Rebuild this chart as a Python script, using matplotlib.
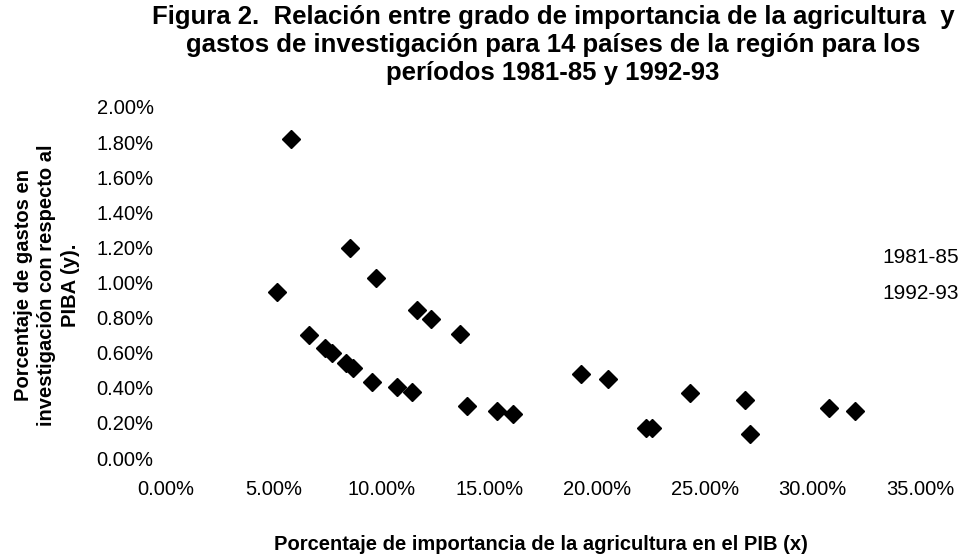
import matplotlib.pyplot as plt
from matplotlib.ticker import FuncFormatter, MultipleLocator

plt.rcParams['font.family'] = ['Liberation Sans', 'DejaVu Sans']

# Datos (valores en %)
x_8185 = [5.80, 8.54, 9.75, 11.64, 12.29, 13.65, 6.64, 19.27, 20.51, 24.33, 26.88, 30.79, 32.00, 22.27]
y_8185 = [1.82, 1.195, 1.027, 0.843, 0.790, 0.707, 0.703, 0.480, 0.448, 0.372, 0.329, 0.285, 0.270, 0.173]
x_9293 = [5.14, 7.38, 7.72, 8.34, 8.70, 9.55, 10.71, 11.44, 13.96, 15.38, 16.09, 22.55, 27.11]
y_9293 = [0.944, 0.628, 0.596, 0.540, 0.515, 0.435, 0.403, 0.374, 0.296, 0.268, 0.251, 0.173, 0.139]
series = ['1981-85', '1992-93']

fig = plt.figure(figsize=(9.8, 5.59), dpi=100)
ax = fig.add_axes([166/980, 1 - 458/559, (920 - 166)/980, (458 - 107)/559])

l1, = ax.plot(x_8185, y_8185, 'D', color='black', markersize=9, label=series[0])
l2, = ax.plot(x_9293, y_9293, 'D', color='black', markersize=9, label=series[1])

ax.set_xlim(0, 35)
ax.set_ylim(0, 2.0)
ax.xaxis.set_major_locator(MultipleLocator(5))
ax.yaxis.set_major_locator(MultipleLocator(0.2))
ax.xaxis.set_major_formatter(FuncFormatter(lambda v, p: f'{v:.2f}%'))
ax.yaxis.set_major_formatter(FuncFormatter(lambda v, p: f'{v:.2f}%'))
ax.tick_params(length=0, labelsize=14.5)
ax.tick_params(axis='x', pad=16)
ax.tick_params(axis='y', pad=9)
for s in ax.spines.values():
    s.set_visible(False)

fig.text(553/980, 1 - 45/559,
         'Figura 2.  Relación entre grado de importancia de la agricultura  y\n'
         'gastos de investigación para 14 países de la región para los\n'
         'períodos 1981-85 y 1992-93',
         ha='center', va='center', fontsize=18.5, fontweight='bold', linespacing=1.22)

fig.text(541/980, 1 - 545/559, 'Porcentaje de importancia de la agricultura en el PIB (x)',
         ha='center', va='center', fontsize=14.5, fontweight='bold')
fig.text(47/980, 1 - 285/559, 'Porcentaje de gastos en\ninvestigación con respecto al\nPIBA (y).',
         ha='center', va='center', rotation=90, fontsize=14.5, fontweight='bold', linespacing=1.3)

leg = fig.legend(handles=[l1, l2], labels=series, loc='upper left',
                 bbox_to_anchor=(882/980, 1 - 248/559), frameon=False,
                 handlelength=0, handletextpad=0, borderpad=0, borderaxespad=0,
                 labelspacing=0.8, fontsize=15)
for h in leg.legend_handles:
    h.set_visible(False)

fig.savefig('out.png', dpi=100)
